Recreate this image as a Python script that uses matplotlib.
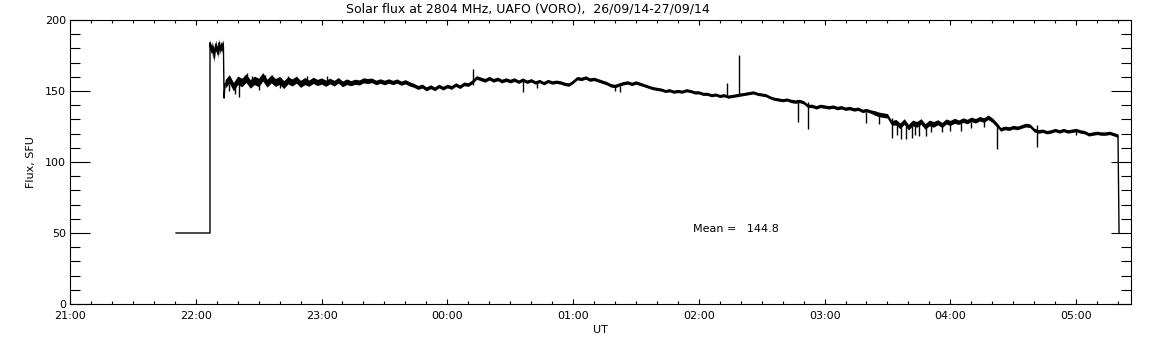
import numpy as np
import matplotlib
matplotlib.use("Agg")
import matplotlib.pyplot as plt

# time axis in minutes after 21:00 UT
hour_labels = ["21:00", "22:00", "23:00", "00:00", "01:00", "02:00", "03:00", "04:00", "05:00"]

# calibration level before the record
lead_t = [50.6, 66.8]
lead_flux = [50, 50]

# first few minutes (antenna not yet settled)
burst_t = [66.8, 67.2, 67.6, 68.0, 68.4, 68.8, 69.2, 69.6, 70.0, 70.4,
           70.8, 71.2, 71.6, 72.0, 72.4, 72.8, 73.2, 73.5]
burst_flux = [184, 179, 182, 177, 181, 173, 180, 183, 178, 181,
              176, 184, 179, 182, 180, 183, 181, 145]
burst_band = 3.0

# main record, one value every 2 min from 22:14 to 05:20
main_start = 74
main_step = 2
main_flux = [
    155.0, 158.5, 153.0, 157.5, 156.0,
    159.0, 155.0, 157.5, 156.0, 160.0,
    155.5, 158.5, 156.0, 157.5, 154.5,
    157.5, 156.0, 158.0, 155.0, 157.0,
    155.5, 157.5, 156.0, 157.0, 155.5,
    157.0, 155.5, 157.5, 155.0, 156.5,
    155.5, 156.5, 156.0, 157.5, 157.0,
    157.5, 156.0, 157.0, 156.0, 157.0,
    156.0, 157.0, 155.5, 156.5, 155.0,
    154.0, 152.5, 153.5, 151.5, 153.0,
    151.5, 153.5, 152.0, 153.5, 152.5,
    154.5, 153.0, 155.0, 154.5, 156.5,
    159.5, 158.5, 157.5, 159.0, 157.5,
    158.5, 157.0, 158.0, 157.0, 158.0,
    156.5, 158.0, 156.5, 157.5, 156.0,
    157.0, 155.5, 157.0, 156.0, 156.5,
    156.0, 155.0, 154.5, 156.5, 159.0,
    158.5, 159.5, 158.0, 158.5, 157.5,
    156.5, 155.5, 154.0, 153.5, 154.5,
    155.5, 156.0, 155.0, 156.0, 155.0,
    154.0, 153.0, 152.0, 151.5, 151.0,
    150.0, 150.5, 149.5, 150.0, 149.5,
    150.5, 150.0, 149.0, 149.0, 148.0,
    148.0, 147.0, 147.5, 146.5, 147.0,
    146.0, 146.5, 147.0, 147.5, 148.0,
    148.5, 149.0, 148.0, 147.5, 147.0,
    145.5, 144.5, 144.0, 143.5, 144.0,
    143.0, 142.5, 143.0, 142.0, 139.5,
    139.5, 138.5, 139.5, 139.0, 138.5,
    139.0, 138.0, 138.5, 137.5, 138.0,
    137.0, 137.5, 136.0, 136.5, 135.5,
    134.5, 133.5, 133.0, 132.5, 127.5,
    128.0, 125.5, 128.5, 124.5, 127.5,
    126.5, 128.5, 125.0, 127.5, 126.5,
    128.0, 126.0, 128.5, 127.5, 129.0,
    128.0, 129.5, 128.5, 130.0, 129.0,
    130.5, 129.5, 131.5, 129.5, 126.5,
    123.0, 124.0, 123.5, 124.5, 124.0,
    125.0, 126.0, 125.5, 122.5, 121.5,
    122.0, 121.0, 121.5, 122.5, 121.5,
    122.5, 121.5, 122.0, 122.5, 121.5,
    121.0, 119.5, 120.0, 120.5, 120.0,
    120.0, 120.5, 119.5, 118.5,
]
# half-width of the noise band, one value per 10 min of the main record
main_band = [3.0, 3.0, 2.8, 2.5, 2.2, 2.0, 1.8, 1.6, 1.5, 1.4,
             1.3, 1.3, 1.3, 1.3, 1.2, 1.2, 1.2, 1.2, 1.2, 1.2,
             1.1, 1.1, 1.1, 1.1, 1.1, 1.1, 1.1, 1.2, 1.2, 1.2,
             1.2, 1.6, 2.0, 2.0, 1.8, 1.6, 1.6, 1.3, 1.3, 1.2,
             1.2, 1.2, 1.2]

# end of record, back to 50
tail_t = [500.5]
tail_flux = [50]

# short spikes / dips (time, level before, extreme)
spike_t = [76.0, 78.5, 80.5, 83.5, 84.5, 87.0, 90.0, 91.6, 93.0, 96.5,
           100.0, 104.0, 108.0, 113.0, 122.5, 192.5, 216.0, 222.9, 260.0, 262.4,
           313.6, 319.3, 347.3, 352.0, 380.0, 386.0, 392.0, 394.5, 396.5, 399.0,
           401.5, 403.0, 405.0, 408.5, 411.0, 416.0, 420.0, 425.0, 430.0, 436.0,
           442.4, 461.4, 480.0]
spike_base = [155, 156, 157, 157, 157, 157, 156, 157, 157, 157,
              156, 156, 156, 156, 157, 154, 157, 156, 154, 153.5,
              146.5, 147.5, 142.5, 142.5, 135.5, 134, 131, 127, 127, 126.5,
              126.5, 126.5, 127, 127, 127, 127, 127.5, 128, 128, 129,
              126, 126, 122]
spike_tip = [150, 148, 145.5, 161.5, 162.5, 160.5, 151, 160.5, 161, 161.5,
             152, 160.5, 159.5, 160.5, 160.5, 165.5, 149.5, 152, 150, 149.5,
             155.5, 175.5, 128.5, 123, 127.5, 127, 117, 119, 116, 116.5,
             117, 119, 118, 118, 121, 121, 121.5, 122, 124, 124.5,
             109.5, 110.5, 119]

mean_flux = 144.8

main_t = main_start + main_step * np.arange(len(main_flux))
main_hw = np.repeat(main_band, 5)[:len(main_flux)]
t = np.concatenate([lead_t, burst_t, main_t, tail_t])
flux = np.concatenate([lead_flux, burst_flux, main_flux, tail_flux])

fig = plt.figure(figsize=(11.52, 3.45), dpi=100)
ax = fig.add_axes([70 / 1152, 1 - 304 / 345, (1131 - 70) / 1152, (304 - 20) / 345])

ax.fill_between(main_t, np.array(main_flux) - main_hw, np.array(main_flux) + main_hw,
                color="black", lw=0)
ax.fill_between(burst_t[:-1], np.array(burst_flux[:-1]) - burst_band,
                np.array(burst_flux[:-1]) + burst_band, color="black", lw=0)
ax.plot(t, flux, color="black", lw=1.0)
ax.vlines(spike_t, spike_base, spike_tip, color="black", lw=1.0)

ax.set_xlim(0, 506.2)
ax.set_ylim(0, 200)
ax.set_xticks(np.arange(0, 481, 60))
ax.set_xticklabels(hour_labels)
ax.set_xticks(np.arange(0, 506, 10), minor=True)
ax.set_yticks([0, 50, 100, 150, 200])
ax.set_yticks(np.arange(0, 201, 10), minor=True)

for s in ax.spines.values():
    s.set_linewidth(0.8)

ax.tick_params(axis="x", which="major", direction="in", length=3.6, width=0.8,
               top=True, bottom=True, labelsize=8, pad=5)
ax.tick_params(axis="x", which="minor", direction="in", length=2, width=0.8,
               top=True, bottom=True)
ax.tick_params(axis="y", which="major", direction="in", length=14.4, width=0.8,
               left=True, right=True, labelsize=8, pad=3)
ax.tick_params(axis="y", which="minor", direction="in", length=7.2, width=0.8,
               left=True, right=True)

ax.set_xlabel("UT", fontsize=8, labelpad=3)
ax.set_ylabel("Flux, SFU", fontsize=8, labelpad=6)
fig.text(528 / 1152, 1 - 9 / 345, "Solar flux at 2804 MHz, UAFO (VORO),  26/09/14-27/09/14",
         ha="center", va="center", fontsize=9)
ax.text(297, 52.7, "Mean =   %.1f" % mean_flux, fontsize=8, va="center", ha="left")

fig.savefig("out.png", dpi=100)
